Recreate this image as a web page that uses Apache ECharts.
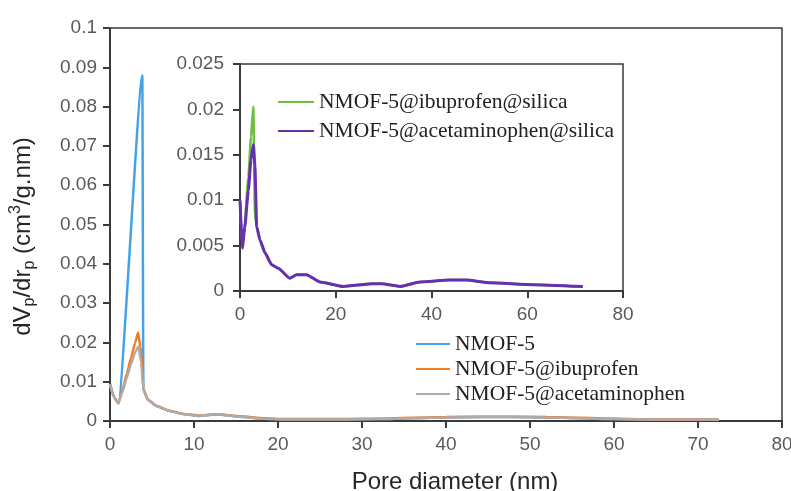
<!DOCTYPE html>
<html><head><meta charset="utf-8">
<script src="https://cdn.jsdelivr.net/npm/echarts@6/dist/echarts.min.js"></script>
<style>html,body{margin:0;padding:0;background:#fff}#c{width:791px;height:491px}</style>
</head><body><div id="c"></div>
<script>
// Main chart: shared tail (pore diameter > 4 nm)
const tailX = [4.5, 5.5, 7, 8.7, 10.7, 12.7, 15.5, 18.3, 20.6, 24, 28, 32, 36, 40, 44, 48, 52, 56, 60, 64, 68, 72.5];
const tailGrey = [0.0054, 0.0038, 0.0026, 0.0018, 0.0013, 0.0017, 0.0011, 0.0006, 0.0004, 0.0004, 0.0004, 0.0005, 0.0007, 0.0009, 0.0010, 0.0010, 0.0009, 0.0007, 0.0005, 0.0004, 0.0004, 0.0003];
const tailOrange = [0.0055, 0.0039, 0.0027, 0.0018, 0.0014, 0.0017, 0.0012, 0.0007, 0.0005, 0.0005, 0.0005, 0.0006, 0.0008, 0.0010, 0.0011, 0.0011, 0.0010, 0.0008, 0.0006, 0.0004, 0.0004, 0.0003];
const tailBlue = [0.0054, 0.0038, 0.0026, 0.0018, 0.0013, 0.0017, 0.0011, 0.0006, 0.0004, 0.0004, 0.0004, 0.0005, 0.0007, 0.0009, 0.0010, 0.0010, 0.0009, 0.0007, 0.0005, 0.0004, 0.0004, 0.0003];
// Main chart: peak region
const headBlueX = [0, 0.5, 1.0, 3.85, 3.97];
const headBlueY = [0.0094, 0.0060, 0.0045, 0.0880, 0.0080];
const headOrangeX = [0, 0.5, 1.0, 1.5, 2.0, 2.5, 3.0, 3.35, 3.6, 3.8, 3.97];
const headOrangeY = [0.0094, 0.0060, 0.0045, 0.0080, 0.0120, 0.0160, 0.0200, 0.0225, 0.0190, 0.0155, 0.0080];
const headGreyX = [0, 0.5, 1.0, 1.5, 2.0, 2.5, 3.0, 3.4, 3.7, 3.97];
const headGreyY = [0.0094, 0.0060, 0.0045, 0.0075, 0.0110, 0.0145, 0.0175, 0.0190, 0.0150, 0.0082];
// Inset chart
const insetX = [0, 0.48, 1.0, 1.74, 2.3, 2.78, 3.13, 3.48, 4.18, 5.22, 6.6, 8.0, 10.4, 11.8, 13.9, 16.7, 21.6, 27.8, 29.6, 33.4, 37.6, 43.8, 47.3, 52.2, 61.2, 71.6];
const insetPurple = [0.0100, 0.0047, 0.0070, 0.0111, 0.0145, 0.0161, 0.0137, 0.0071, 0.0056, 0.0042, 0.0029, 0.0025, 0.0014, 0.0018, 0.0018, 0.0010, 0.0005, 0.0008, 0.0008, 0.0005, 0.0010, 0.0012, 0.0012, 0.0009, 0.0007, 0.0005];
const insetGreen = [0.0100, 0.0047, 0.0075, 0.0125, 0.0170, 0.0203, 0.0085, 0.0071, 0.0056, 0.0042, 0.0029, 0.0025, 0.0014, 0.0018, 0.0018, 0.0010, 0.0005, 0.0008, 0.0008, 0.0005, 0.0010, 0.0012, 0.0012, 0.0009, 0.0007, 0.0005];
const mainNames = ['NMOF-5', 'NMOF-5@ibuprofen', 'NMOF-5@acetaminophen'];
const insetNames = ['NMOF-5@ibuprofen@silica', 'NMOF-5@acetaminophen@silica'];

function pairs(xs, ys) { return xs.map((x, i) => [x, ys[i]]); }
const blueData = pairs(headBlueX.concat(tailX), headBlueY.concat(tailBlue));
const orangeData = pairs(headOrangeX.concat(tailX), headOrangeY.concat(tailOrange));
const greyData = pairs(headGreyX.concat(tailX), headGreyY.concat(tailGrey));

const axisCol = '#3a3a3a';
const tickLbl = {color: '#595959', fontFamily: 'Liberation Sans', fontSize: 19};
const legendText = {fontFamily: 'Liberation Serif', fontSize: 21.5, color: '#222', lineHeight: 20};

const chart = echarts.init(document.getElementById('c'), null, {renderer: 'canvas'});
chart.setOption({
  animation: false,
  backgroundColor: '#fff',
  grid: [
    {left: 110, right: 9, top: 28, bottom: 70, outerBoundsMode: 'none', containLabel: false, show: true, borderColor: axisCol, borderWidth: 1.5, backgroundColor: 'transparent'},
    {left: 240, right: 168, top: 64, bottom: 200, outerBoundsMode: 'none', containLabel: false, show: true, borderColor: axisCol, borderWidth: 1.5, backgroundColor: 'transparent'}
  ],
  xAxis: [
    {type: 'value', gridIndex: 0, min: 0, max: 80, interval: 10,
     axisLine: {lineStyle: {color: axisCol, width: 2}}, axisTick: {length: 7, lineStyle: {color: axisCol, width: 2}},
     axisLabel: Object.assign({margin: 14}, tickLbl), splitLine: {show: false},
     name: 'Pore diameter (nm)', nameLocation: 'middle', nameGap: 49,
     nameTextStyle: {fontFamily: 'Liberation Sans', fontSize: 24, color: '#262626', padding: [0, 0, 0, 18]}},
    {type: 'value', gridIndex: 1, min: 0, max: 80, interval: 20,
     axisLine: {lineStyle: {color: axisCol, width: 2}}, axisTick: {length: 7, lineStyle: {color: axisCol, width: 2}},
     axisLabel: Object.assign({margin: 14}, tickLbl), splitLine: {show: false}}
  ],
  yAxis: [
    {type: 'value', gridIndex: 0, min: 0, max: 0.1, interval: 0.01,
     axisLine: {show: true, lineStyle: {color: axisCol, width: 2}}, axisTick: {show: true, length: 7, lineStyle: {color: axisCol, width: 2}},
     axisLabel: Object.assign({margin: 13}, tickLbl), splitLine: {show: false},
     name: 'dV{sub|p}/dr{sub|p} (cm{sup|3}/g.nm)', nameLocation: 'middle', nameRotate: 90, nameGap: 72,
     nameTextStyle: {fontFamily: 'Liberation Sans', fontSize: 24, color: '#262626', lineHeight: 30, padding: [0, 24, 0, 0],
       rich: {sub: {fontFamily: 'Liberation Sans', fontSize: 16, color: '#262626', verticalAlign: 'bottom', lineHeight: 16},
              sup: {fontFamily: 'Liberation Sans', fontSize: 16, color: '#262626', verticalAlign: 'top', lineHeight: 20}}}},
    {type: 'value', gridIndex: 1, min: 0, max: 0.025, interval: 0.005,
     axisLine: {show: true, lineStyle: {color: axisCol, width: 2}}, axisTick: {show: true, length: 7, lineStyle: {color: axisCol, width: 2}},
     axisLabel: Object.assign({margin: 16}, tickLbl), splitLine: {show: false}}
  ],
  legend: [
    {data: mainNames, orient: 'vertical', left: 416, top: 333, itemWidth: 34, itemHeight: 2, icon: 'rect', itemGap: 3,
     selectedMode: false, textStyle: legendText, padding: 0},
    {data: insetNames, orient: 'vertical', left: 278, top: 91, itemWidth: 36, itemHeight: 2, icon: 'rect', itemGap: 7,
     selectedMode: false, textStyle: Object.assign({}, legendText, {fontSize: 21.5, lineHeight: 21}), padding: 0}
  ],
  series: [
    {name: mainNames[0], type: 'line', xAxisIndex: 0, yAxisIndex: 0, data: blueData, symbol: 'none', smooth: 0.15, smoothMonotone: 'x', color: '#43a2e8', lineStyle: {width: 2.5, color: '#43a2e8'}},
    {name: mainNames[1], type: 'line', xAxisIndex: 0, yAxisIndex: 0, data: orangeData, symbol: 'none', smooth: 0.15, smoothMonotone: 'x', color: '#f07c2a', lineStyle: {width: 2.5, color: '#f07c2a'}},
    {name: mainNames[2], type: 'line', xAxisIndex: 0, yAxisIndex: 0, data: greyData, symbol: 'none', smooth: 0.15, smoothMonotone: 'x', color: '#b3aaa6', lineStyle: {width: 2.5, color: '#b3aaa6'}},
    {name: insetNames[0], type: 'line', xAxisIndex: 1, yAxisIndex: 1, data: pairs(insetX, insetGreen), symbol: 'none', smooth: 0.15, smoothMonotone: 'x', color: '#6cbf3f', lineStyle: {width: 2.5, color: '#6cbf3f'}},
    {name: insetNames[1], type: 'line', xAxisIndex: 1, yAxisIndex: 1, data: pairs(insetX, insetPurple), symbol: 'none', smooth: 0.15, smoothMonotone: 'x', color: '#6630b0', lineStyle: {width: 3, color: '#6630b0'}}
  ]
});
</script></body></html>
